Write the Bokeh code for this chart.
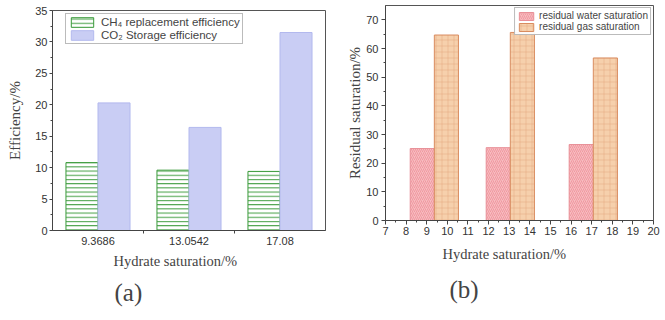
from bokeh.plotting import figure
from bokeh.layouts import row, column
from bokeh.models import Title, FixedTicker, Legend, LegendItem
from bokeh.embed import file_html
from bokeh.resources import INLINE

# ---------------- data ----------------
categories_a = ["9.3686", "13.0542", "17.08"]
ch4_replacement = [10.8, 9.6, 9.4]
co2_storage = [20.3, 16.4, 31.5]

hydrate_sat_b = [9.3686, 13.0542, 17.08]
residual_water = [25.1, 25.4, 26.5]
residual_gas = [64.7, 65.6, 56.7]

SANS = "Liberation Sans"
SERIF = "Liberation Serif"


def style_axis(ax, tick_out=3):
    ax.axis_line_color = "#444444"
    ax.major_tick_line_color = "#444444"
    ax.minor_tick_line_color = "#444444"
    ax.major_tick_out = tick_out
    ax.major_tick_in = 0
    ax.minor_tick_out = 2
    ax.minor_tick_in = 0
    ax.major_label_text_font = SANS
    ax.major_label_text_font_size = "11px"
    ax.major_label_text_color = "#333333"
    ax.major_label_standoff = 2
    ax.axis_label_text_font = SERIF
    ax.axis_label_text_font_size = "15px"
    ax.axis_label_text_font_style = "normal"


# ---------------- panel (a) ----------------
pos = [i + 1 for i in range(len(categories_a))]
bw = 0.352
pa = figure(width=330, height=318, output_backend="svg", toolbar_location=None,
            x_range=(0.5, 3.5), y_range=(0, 35),
            min_border_left=52, min_border_right=5, min_border_top=10, min_border_bottom=88)
r1 = pa.vbar(x=[p - bw / 2 for p in pos], top=ch4_replacement, width=bw,
             fill_color="white", line_color="#3a9a3a", line_width=1,
             hatch_pattern="horizontal_line", hatch_color="#3a9a3a", hatch_scale=4.2, hatch_weight=1)
r2 = pa.vbar(x=[p + bw / 2 for p in pos], top=co2_storage, width=bw,
             fill_color="#c9cdf4", line_color="#b3b9ee", line_width=1)

pa.xgrid.visible = False
pa.ygrid.visible = False
pa.outline_line_color = "#555555"
pa.xaxis.ticker = FixedTicker(ticks=pos, minor_ticks=[1.5, 2.5])
pa.xaxis.major_label_overrides = {p: c for p, c in zip(pos, categories_a)}
pa.yaxis.ticker = FixedTicker(ticks=[0, 5, 10, 15, 20, 25, 30, 35],
                              minor_ticks=[2.5, 7.5, 12.5, 17.5, 22.5, 27.5, 32.5])
pa.yaxis.axis_label = "Efficiency/%"
style_axis(pa.xaxis[0])
style_axis(pa.yaxis[0])
pa.xaxis.major_tick_line_color = None
pa.xaxis.major_tick_out = 0
pa.xaxis.minor_tick_out = 3
pa.xaxis.major_label_standoff = 3
pa.yaxis.axis_label_standoff = 9

leg_a = Legend(items=[LegendItem(label="CH\u2084 replacement efficiency", renderers=[r1]),
                      LegendItem(label="CO\u2082 Storage efficiency", renderers=[r2])],
               location=(13, 186), label_text_font=SANS, label_text_font_size="11.5px",
               glyph_width=28, glyph_height=12, label_height=12, spacing=1, padding=2,
               label_standoff=5, border_line_color="#777777", margin=0)
pa.add_layout(leg_a)

pa.add_layout(Title(text="Hydrate saturation/%", align="left", offset=61, standoff=6,
                    text_font=SERIF, text_font_size="14.5px", text_font_style="normal"), "below")
pa.add_layout(Title(text="(a)", align="left", offset=62, standoff=11,
                    text_font=SERIF, text_font_size="25px", text_font_style="normal"), "below")

# ---------------- panel (b) ----------------
wb = 1.17
pb = figure(width=333, height=318, output_backend="svg", toolbar_location=None,
            x_range=(7, 20), y_range=(0, 75),
            min_border_left=55, min_border_right=10, min_border_top=5, min_border_bottom=98)
r3 = pb.vbar(x=[h - wb / 2 for h in hydrate_sat_b], top=residual_water, width=wb,
             fill_color="#f7bcc0", line_color="#e89098", line_width=1,
             hatch_pattern="right_diagonal_line", hatch_color="#ef8f98", hatch_scale=4, hatch_weight=0.8)
r4 = pb.vbar(x=[h + wb / 2 for h in hydrate_sat_b], top=residual_gas, width=wb,
             fill_color="#f6d0ac", line_color="#d98c5f", line_width=1,
             hatch_pattern="cross", hatch_color="#e2a57c", hatch_scale=6, hatch_weight=0.7, hatch_alpha=0.7)

pb.xgrid.visible = False
pb.ygrid.visible = False
pb.outline_line_color = "#555555"
pb.xaxis.ticker = FixedTicker(ticks=list(range(7, 21)),
                              minor_ticks=[7.5 + i for i in range(13)])
pb.yaxis.ticker = FixedTicker(ticks=list(range(0, 80, 10)),
                              minor_ticks=[5 + 10 * i for i in range(7)])
pb.yaxis.axis_label = "Residual saturation/%"
style_axis(pb.xaxis[0], tick_out=4)
style_axis(pb.yaxis[0], tick_out=4)
pb.yaxis.major_label_standoff = 3
pb.yaxis.axis_label_standoff = 0

leg_b = Legend(items=[LegendItem(label="residual water saturation", renderers=[r3]),
                      LegendItem(label="residual gas saturation", renderers=[r4])],
               location="top_right", label_text_font=SANS, label_text_font_size="10px",
               glyph_width=18, glyph_height=10, label_height=10, spacing=0, padding=2,
               label_standoff=4, border_line_color="#777777", margin=2)
pb.add_layout(leg_b)

pb.add_layout(Title(text="Hydrate saturation/%", align="left", offset=57, standoff=12,
                    text_font=SERIF, text_font_size="14.5px", text_font_style="normal"), "below")
pb.add_layout(Title(text="(b)", align="left", offset=64, standoff=12,
                    text_font=SERIF, text_font_size="25px", text_font_style="normal"), "below")

layout = row(column(pa), column(pb))
open("out.html", "w").write(file_html(layout, INLINE))
